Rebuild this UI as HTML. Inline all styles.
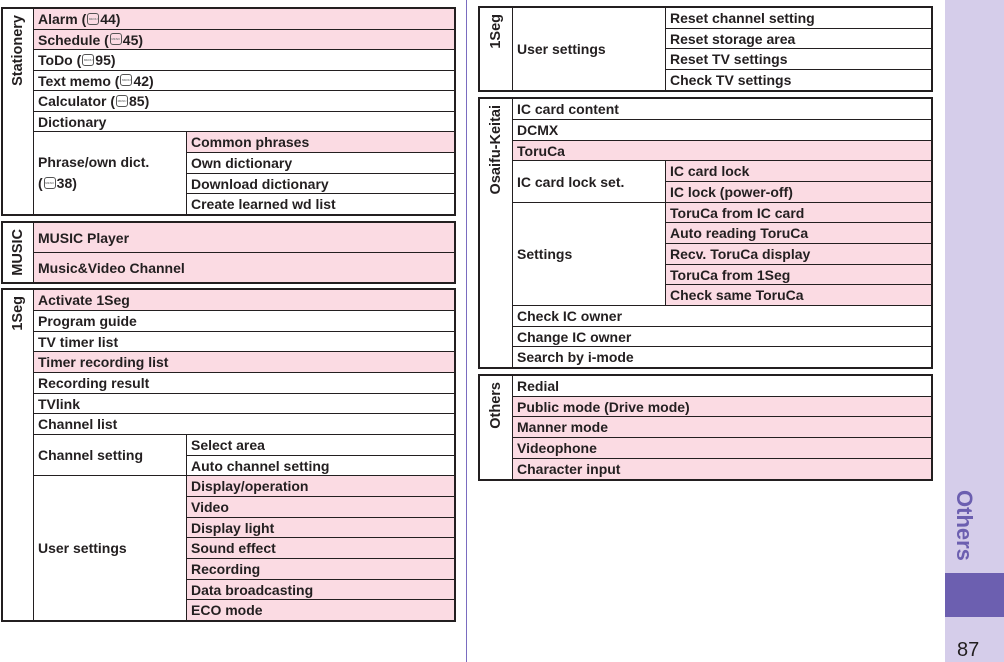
<!DOCTYPE html>
<html><head><meta charset="utf-8"><style>
*{box-sizing:border-box;margin:0;padding:0}
body{width:1004px;height:662px;background:#fff;position:relative;overflow:hidden;font-family:"Liberation Sans",Arial,sans-serif;font-weight:bold;font-size:14px;color:#231f20}
.c{position:absolute;border:1px solid #231f20;padding-left:4px;display:flex;align-items:center;white-space:nowrap;background:#fff}
.p{background:#fbdbe3}
.f{position:absolute;border:2px solid #231f20;pointer-events:none}
.l{position:absolute;border:1px solid #231f20;background:#fff}
.l span{position:absolute;left:50%;top:6px;transform-origin:0 0;transform:rotate(-90deg) translate(-100%,-50%);white-space:nowrap;font-size:14.5px;font-weight:bold}
.m{display:inline-block;width:12px;height:12px;border:1px solid #555;border-radius:3px;font-size:3px;line-height:10px;text-align:center;color:#888;vertical-align:middle;margin:-3px 1px 0;font-style:normal;overflow:hidden}
</style></head><body>
<!-- LEFT: Stationery -->
<div class="l" style="left:2px;top:8px;width:32px;height:207px"><span>Stationery</span></div>
<div class="c p" style="left:33px;top:8px;width:422px;height:22px"><span>Alarm (<i class="m">MENU</i>44)</span></div>
<div class="c p" style="left:33px;top:29px;width:422px;height:21px"><span>Schedule (<i class="m">MENU</i>45)</span></div>
<div class="c" style="left:33px;top:49px;width:422px;height:22px"><span>ToDo (<i class="m">MENU</i>95)</span></div>
<div class="c" style="left:33px;top:70px;width:422px;height:21px"><span>Text memo (<i class="m">MENU</i>42)</span></div>
<div class="c" style="left:33px;top:90px;width:422px;height:22px"><span>Calculator (<i class="m">MENU</i>85)</span></div>
<div class="c" style="left:33px;top:111px;width:422px;height:21px">Dictionary</div>
<div class="c" style="left:33px;top:131px;width:154px;height:84px"><div style="line-height:21px">Phrase/own dict.<br>(<i class="m">MENU</i>38)</div></div>
<div class="c p" style="left:186px;top:131px;width:269px;height:22px">Common phrases</div>
<div class="c" style="left:186px;top:152px;width:269px;height:22px">Own dictionary</div>
<div class="c" style="left:186px;top:173px;width:269px;height:21px">Download dictionary</div>
<div class="c" style="left:186px;top:193px;width:269px;height:22px">Create learned wd list</div>
<div class="f" style="left:1px;top:7px;width:455px;height:209px"></div>
<!-- MUSIC -->
<div class="l" style="left:2px;top:222px;width:32px;height:61px"><span>MUSIC</span></div>
<div class="c p" style="left:33px;top:222px;width:422px;height:31px">MUSIC Player</div>
<div class="c p" style="left:33px;top:252px;width:422px;height:31px">Music&amp;Video Channel</div>
<div class="f" style="left:1px;top:221px;width:455px;height:63px"></div>
<!-- 1Seg -->
<div class="l" style="left:2px;top:289px;width:32px;height:332px"><span>1Seg</span></div>
<div class="c p" style="left:33px;top:289px;width:422px;height:22px">Activate 1Seg</div>
<div class="c" style="left:33px;top:310px;width:422px;height:22px">Program guide</div>
<div class="c" style="left:33px;top:331px;width:422px;height:21px">TV timer list</div>
<div class="c p" style="left:33px;top:351px;width:422px;height:22px">Timer recording list</div>
<div class="c" style="left:33px;top:372px;width:422px;height:22px">Recording result</div>
<div class="c" style="left:33px;top:393px;width:422px;height:21px">TVlink</div>
<div class="c" style="left:33px;top:413px;width:422px;height:22px">Channel list</div>
<div class="c" style="left:33px;top:434px;width:154px;height:42px">Channel setting</div>
<div class="c" style="left:186px;top:434px;width:269px;height:22px">Select area</div>
<div class="c" style="left:186px;top:455px;width:269px;height:21px">Auto channel setting</div>
<div class="c" style="left:33px;top:475px;width:154px;height:146px">User settings</div>
<div class="c p" style="left:186px;top:475px;width:269px;height:22px">Display/operation</div>
<div class="c p" style="left:186px;top:496px;width:269px;height:22px">Video</div>
<div class="c p" style="left:186px;top:517px;width:269px;height:21px">Display light</div>
<div class="c p" style="left:186px;top:537px;width:269px;height:22px">Sound effect</div>
<div class="c p" style="left:186px;top:558px;width:269px;height:22px">Recording</div>
<div class="c p" style="left:186px;top:579px;width:269px;height:21px">Data broadcasting</div>
<div class="c p" style="left:186px;top:599px;width:269px;height:22px">ECO mode</div>
<div class="f" style="left:1px;top:288px;width:455px;height:334px"></div>
<!-- divider -->
<div style="position:absolute;left:466px;top:0;width:1px;height:662px;background:#7a6cc0"></div>
<!-- RIGHT 1Seg -->
<div class="l" style="left:479px;top:7px;width:34px;height:84px"><span>1Seg</span></div>
<div class="c" style="left:512px;top:7px;width:154px;height:84px">User settings</div>
<div class="c" style="left:665px;top:7px;width:267px;height:22px">Reset channel setting</div>
<div class="c" style="left:665px;top:28px;width:267px;height:21px">Reset storage area</div>
<div class="c" style="left:665px;top:48px;width:267px;height:22px">Reset TV settings</div>
<div class="c" style="left:665px;top:69px;width:267px;height:22px">Check TV settings</div>
<div class="f" style="left:478px;top:6px;width:455px;height:86px"></div>
<!-- Osaifu -->
<div class="l" style="left:479px;top:98px;width:34px;height:270px"><span>Osaifu-Keitai</span></div>
<div class="c" style="left:512px;top:98px;width:420px;height:22px">IC card content</div>
<div class="c" style="left:512px;top:119px;width:420px;height:22px">DCMX</div>
<div class="c p" style="left:512px;top:140px;width:420px;height:21px">ToruCa</div>
<div class="c" style="left:512px;top:160px;width:154px;height:43px">IC card lock set.</div>
<div class="c p" style="left:665px;top:160px;width:267px;height:22px">IC card lock</div>
<div class="c p" style="left:665px;top:181px;width:267px;height:22px">IC lock (power-off)</div>
<div class="c" style="left:512px;top:202px;width:154px;height:104px">Settings</div>
<div class="c p" style="left:665px;top:202px;width:267px;height:21px">ToruCa from IC card</div>
<div class="c p" style="left:665px;top:222px;width:267px;height:22px">Auto reading ToruCa</div>
<div class="c p" style="left:665px;top:243px;width:267px;height:22px">Recv. ToruCa display</div>
<div class="c p" style="left:665px;top:264px;width:267px;height:21px">ToruCa from 1Seg</div>
<div class="c p" style="left:665px;top:284px;width:267px;height:22px">Check same ToruCa</div>
<div class="c" style="left:512px;top:305px;width:420px;height:22px">Check IC owner</div>
<div class="c" style="left:512px;top:326px;width:420px;height:21px">Change IC owner</div>
<div class="c" style="left:512px;top:346px;width:420px;height:22px">Search by i-mode</div>
<div class="f" style="left:478px;top:97px;width:455px;height:272px"></div>
<!-- Others -->
<div class="l" style="left:479px;top:375px;width:34px;height:105px"><span>Others</span></div>
<div class="c" style="left:512px;top:375px;width:420px;height:22px">Redial</div>
<div class="c p" style="left:512px;top:396px;width:420px;height:21px">Public mode (Drive mode)</div>
<div class="c p" style="left:512px;top:416px;width:420px;height:22px">Manner mode</div>
<div class="c p" style="left:512px;top:437px;width:420px;height:22px">Videophone</div>
<div class="c p" style="left:512px;top:458px;width:420px;height:22px">Character input</div>
<div class="f" style="left:478px;top:374px;width:455px;height:107px"></div>
<!-- sidebar -->
<div style="position:absolute;left:945px;top:0;width:59px;height:662px;background:#d5cdea"></div>
<div style="position:absolute;left:945px;top:573px;width:59px;height:44px;background:#6c5fb0"></div>
<div style="position:absolute;left:977px;top:490px;transform-origin:0 0;transform:rotate(90deg);font-size:22px;color:#6c5fb0;white-space:nowrap">Others</div>
<div style="position:absolute;left:957px;top:639px;font-size:20px;font-weight:normal;color:#231f20">87</div>
</body></html>
